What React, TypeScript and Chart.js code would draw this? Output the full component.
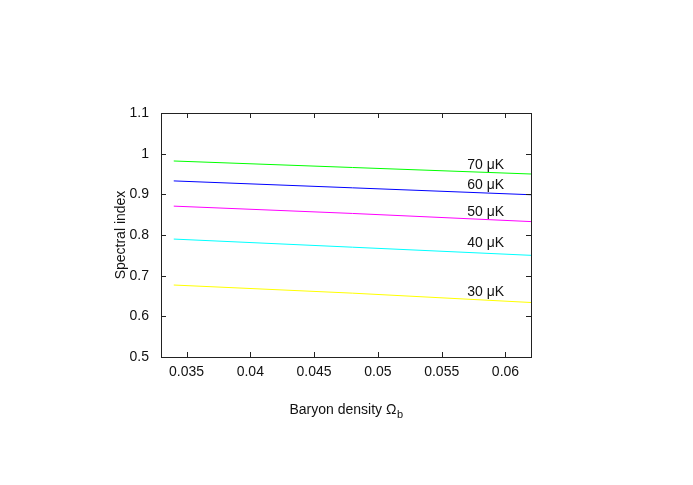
import React, { useEffect, useRef } from "react";
import { Chart, registerables } from "chart.js";

Chart.register(...registerables);

const X_VALUES = [0.034, 0.048, 0.062];
const SERIES_NAMES = ["70 μK", "60 μK", "50 μK", "40 μK", "30 μK"];
const SERIES_COLORS = ["#00ff00", "#0000ff", "#ff00ff", "#00ffff", "#ffff00"];
const S70 = [0.982, 0.966, 0.95];
const S60 = [0.933, 0.916, 0.899];
const S50 = [0.871, 0.853, 0.833];
const S40 = [0.79, 0.77, 0.75];
const S30 = [0.677, 0.657, 0.634];
const SERIES = [S70, S60, S50, S40, S30];
const LABEL_X = 0.057;
const LABEL_Y = [0.971, 0.922, 0.856, 0.781, 0.659];
const X_TICKS = [0.035, 0.04, 0.045, 0.05, 0.055, 0.06];
const X_TICK_LABELS = ["0.035", "0.04", "0.045", "0.05", "0.055", "0.06"];
const Y_TICKS = [0.5, 0.6, 0.7, 0.8, 0.9, 1.0, 1.1];
const Y_TICK_LABELS = ["0.5", "0.6", "0.7", "0.8", "0.9", "1", "1.1"];
const X_TITLE = "Baryon density Ω";
const X_TITLE_SUB = "b";
const Y_TITLE = "Spectral index";

const FONT = "'Liberation Sans', Arial, Helvetica, sans-serif";

const decorPlugin = {
  id: "decor",
  afterDraw(chart: any) {
    const ctx = chart.ctx;
    const { left, right, top, bottom } = chart.chartArea;
    const xs = chart.scales.x;
    const ys = chart.scales.y;
    ctx.save();
    ctx.strokeStyle = "#222";
    ctx.lineWidth = 1;
    ctx.strokeRect(Math.round(left) + 0.5, Math.round(top) + 0.5, Math.round(right - left), Math.round(bottom - top));
    const tl = 5;
    ctx.beginPath();
    X_TICKS.forEach((v) => {
      const px = Math.round(xs.getPixelForValue(v)) + 0.5;
      ctx.moveTo(px, bottom);
      ctx.lineTo(px, bottom - tl);
      ctx.moveTo(px, top);
      ctx.lineTo(px, top + tl);
    });
    Y_TICKS.forEach((v) => {
      const py = Math.round(ys.getPixelForValue(v)) + 0.5;
      ctx.moveTo(left, py);
      ctx.lineTo(left + tl, py);
      ctx.moveTo(right, py);
      ctx.lineTo(right - tl, py);
    });
    ctx.stroke();

    ctx.fillStyle = "#111";
    ctx.font = `14px ${FONT}`;
    ctx.textBaseline = "middle";
    ctx.textAlign = "left";
    SERIES_NAMES.forEach((name, i) => {
      ctx.fillText(name, xs.getPixelForValue(LABEL_X), ys.getPixelForValue(LABEL_Y[i]));
    });

    // x title with subscript
    const mainW = ctx.measureText(X_TITLE).width;
    ctx.font = `11px ${FONT}`;
    const subW = ctx.measureText(X_TITLE_SUB).width;
    const cx = (left + right) / 2;
    const startX = cx - (mainW + subW) / 2;
    const ty = 410;
    ctx.font = `14px ${FONT}`;
    ctx.fillText(X_TITLE, startX, ty);
    ctx.font = `11px ${FONT}`;
    ctx.fillText(X_TITLE_SUB, startX + mainW + 0.5, ty + 5);

    // y title
    ctx.font = `14px ${FONT}`;
    ctx.textAlign = "center";
    ctx.translate(121, (top + bottom) / 2);
    ctx.rotate(-Math.PI / 2);
    ctx.fillText(Y_TITLE, 0, 0);
    ctx.restore();
  },
};

export default function App() {
  const ref = useRef<HTMLCanvasElement | null>(null);
  useEffect(() => {
    if (!ref.current) return;
    const chart = new Chart(ref.current, {
      type: "line",
      data: {
        datasets: SERIES.map((s, i) => ({
          label: SERIES_NAMES[i],
          data: s.map((y, j) => ({ x: X_VALUES[j], y })),
          borderColor: SERIES_COLORS[i],
          borderWidth: 1,
          pointRadius: 0,
          fill: false,
          tension: 0,
        })),
      },
      options: {
        responsive: false,
        animation: false,
        layout: { padding: { left: 0, top: 113, right: 162, bottom: 0 } },
        plugins: { legend: { display: false }, tooltip: { enabled: false }, title: { display: false } },
        scales: {
          x: {
            type: "linear",
            min: 0.033,
            max: 0.062,
            grid: { display: false, drawTicks: false },
            border: { display: false },
            afterFit: (s: any) => {
              s.height = 128;
            },
            afterBuildTicks: (s: any) => {
              s.ticks = X_TICKS.map((v) => ({ value: v }));
            },
            ticks: {
              padding: 7,
              color: "#111",
              font: { family: FONT, size: 14 },
              maxRotation: 0,
              autoSkip: false,
              callback: (_v: any, i: number) => X_TICK_LABELS[i],
            },
          },
          y: {
            type: "linear",
            min: 0.5,
            max: 1.1,
            grid: { display: false, drawTicks: false },
            border: { display: false },
            afterFit: (s: any) => {
              s.width = 161;
            },
            afterBuildTicks: (s: any) => {
              s.ticks = Y_TICKS.map((v) => ({ value: v }));
            },
            ticks: {
              padding: 12,
              color: "#111",
              font: { family: FONT, size: 14 },
              autoSkip: false,
              callback: (_v: any, i: number) => Y_TICK_LABELS[i],
            },
          },
        },
      },
      plugins: [decorPlugin],
    });
    return () => chart.destroy();
  }, []);
  return (
    <div style={{ position: "absolute", left: 0, top: 0, width: 693, height: 485, background: "#fff" }}>
      <canvas ref={ref} width={693} height={485} style={{ display: "block" }} />
    </div>
  );
}
